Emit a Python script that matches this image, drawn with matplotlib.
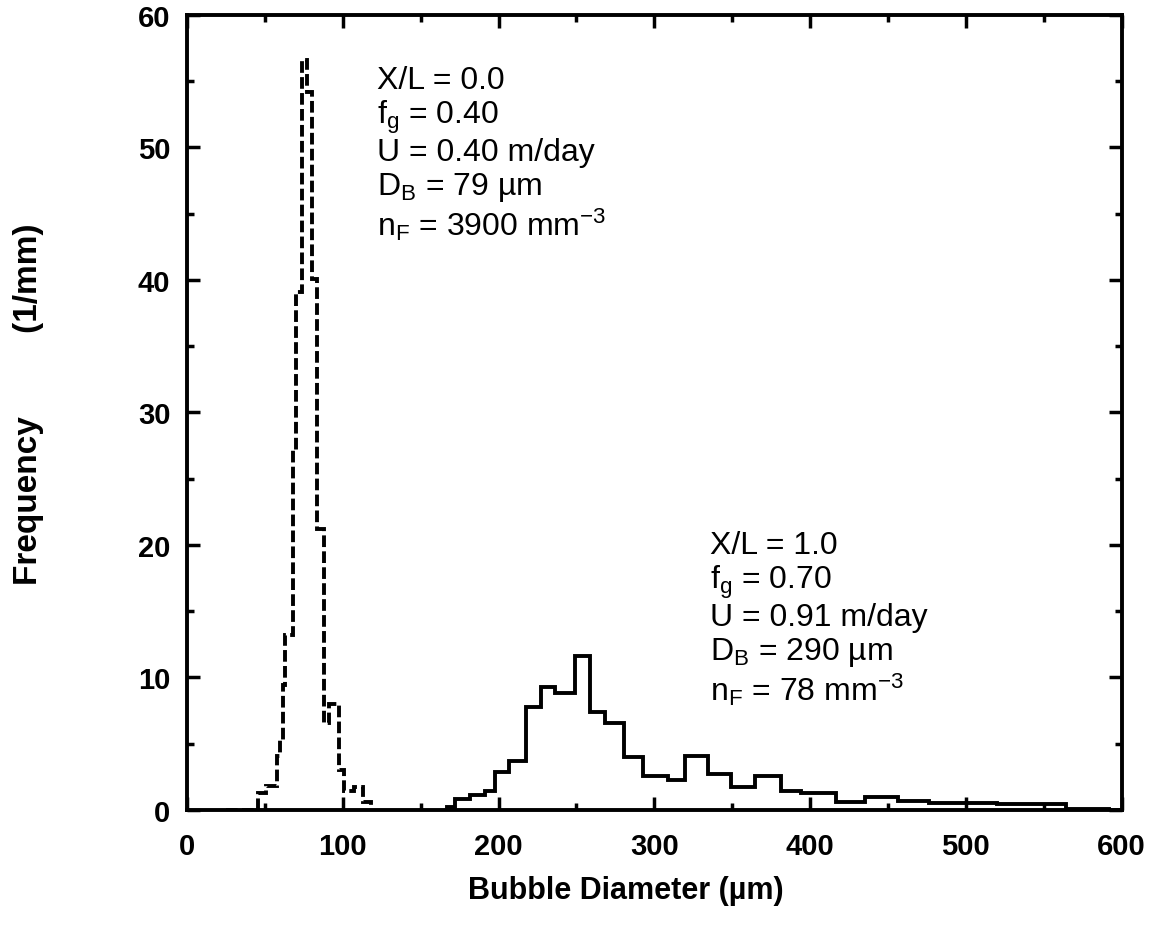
import numpy as np
import matplotlib
matplotlib.use("Agg")
import matplotlib.pyplot as plt
from matplotlib.ticker import MultipleLocator

plt.rcParams['font.family'] = ['Liberation Sans', 'DejaVu Sans']
plt.rcParams['mathtext.default'] = 'regular'

# dashed histogram, X/L = 0.0 (bin edges in um, frequency in 1/mm)
edges_inlet = [25, 45.5, 51, 57.5, 59.5, 61.5, 62.8, 68.2, 70.3, 74, 77, 80.5,
               83.5, 88, 91, 97.5, 101, 107, 113, 118]
freq_inlet = [0, 1.3, 1.8, 4.1, 5.3, 9.4, 13.2, 27.2, 39.1, 56.6, 54.2, 40.1,
              21.2, 6.6, 8.0, 3.0, 1.4, 1.7, 0.6]

# solid histogram, X/L = 1.0
edges_outlet = [167, 172, 182, 191, 197.5, 207, 217.5, 227, 236, 249, 258.5,
                268.5, 280.5, 292.5, 308.5, 320, 334.5, 349, 364.5, 381, 394,
                416.5, 435, 456.5, 476, 520, 564, 592, 600]
freq_outlet = [0.2, 0.8, 1.1, 1.4, 2.9, 3.7, 7.8, 9.3, 8.8, 11.6, 7.4, 6.6,
               4.0, 2.6, 2.3, 4.1, 2.7, 1.7, 2.6, 1.4, 1.3, 0.6, 1.0, 0.7,
               0.5, 0.45, 0.1, 0]

text_inlet = ("X/L = 0.0\nf$_{g}$ = 0.40\nU = 0.40 m/day\n"
              "D$_{B}$ = 79 \u00b5m\nn$_{F}$ = 3900 mm$^{-3}$")
text_outlet = ("X/L = 1.0\nf$_{g}$ = 0.70\nU = 0.91 m/day\n"
               "D$_{B}$ = 290 \u00b5m\nn$_{F}$ = 78 mm$^{-3}$")

fig = plt.figure(figsize=(11.54, 9.29), dpi=100)
ax = fig.add_axes([0.162, 0.127, 0.810, 0.856])

ax.stairs(freq_inlet, edges_inlet, color='black', linewidth=2.8,
          linestyle=(0, (3, 1.1)))
ax.stairs(freq_outlet, edges_outlet, color='black', linewidth=2.8)

ax.text(122, 56.2, text_inlet, fontsize=23, va='top', ha='left', linespacing=1.1)
ax.text(335.5, 21.1, text_outlet, fontsize=23, va='top', ha='left', linespacing=1.1)

ax.set_xlim(0, 600)
ax.set_ylim(0, 60)
ax.xaxis.set_major_locator(MultipleLocator(100))
ax.xaxis.set_minor_locator(MultipleLocator(50))
ax.yaxis.set_major_locator(MultipleLocator(10))
ax.yaxis.set_minor_locator(MultipleLocator(5))
ax.tick_params(which='both', direction='in', top=True, right=True, width=2.5,
               labelsize=21)
ax.tick_params(axis='x', pad=16)
ax.tick_params(axis='y', pad=12)
ax.tick_params(which='major', length=9.5)
ax.tick_params(which='minor', length=5)
for lab in ax.get_xticklabels() + ax.get_yticklabels():
    lab.set_fontweight('bold')
for sp in ax.spines.values():
    sp.set_linewidth(2.8)

ax.set_xlabel('Bubble Diameter (\u00b5m)', fontsize=22, fontweight='bold')
ax.xaxis.set_label_coords(0.47, -0.082)
ax.set_ylabel('Frequency         (1/mm)', fontsize=24, fontweight='bold')
ax.yaxis.set_label_coords(-0.153, 0.511)

fig.savefig('out.png', dpi=100)
